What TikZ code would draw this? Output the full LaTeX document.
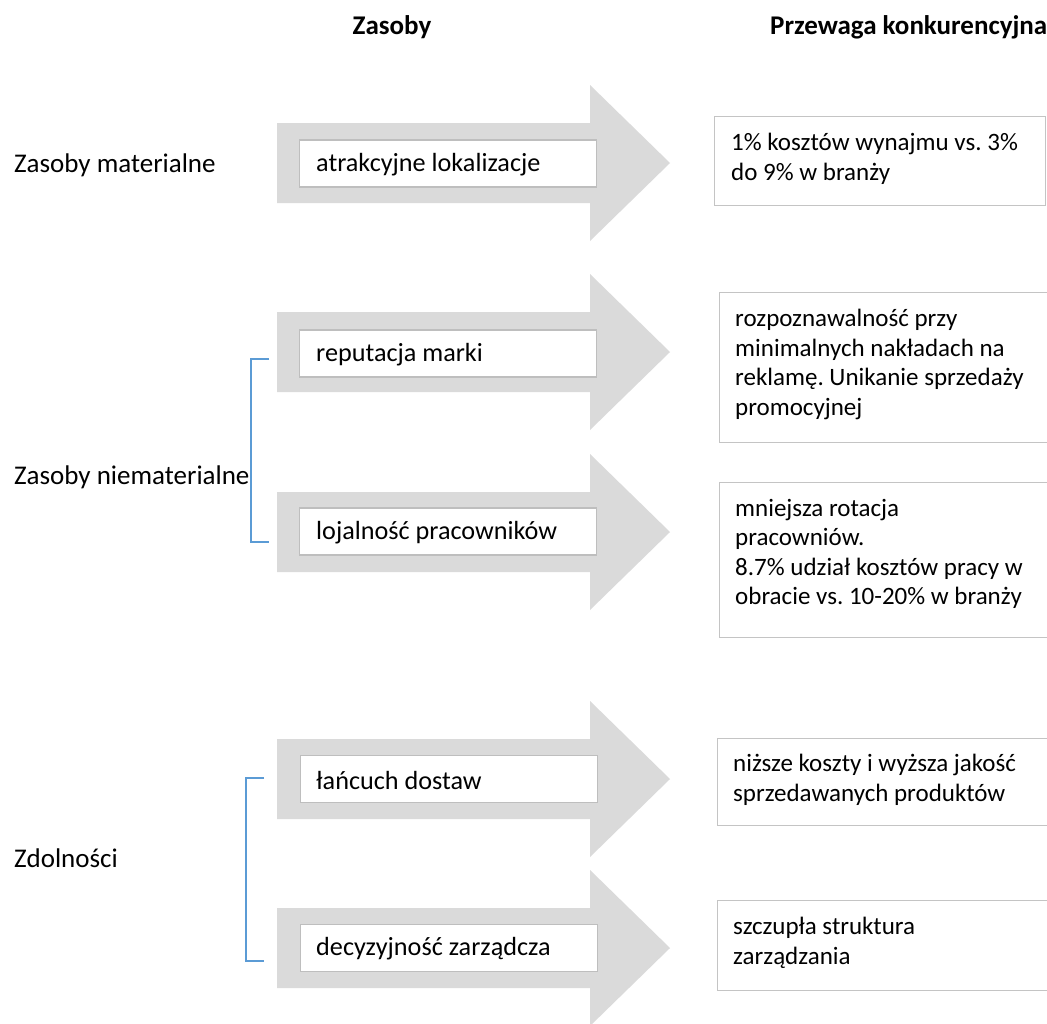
\documentclass[tikz,border=0pt]{standalone}
\usepackage{fontspec}
\setmainfont{Carlito}
\frenchspacing
\definecolor{arrowgray}{RGB}{218,218,218}
\definecolor{boxline}{RGB}{196,196,196}
\definecolor{innerline}{RGB}{190,190,190}
\definecolor{bracketblue}{RGB}{91,155,213}
\begin{document}
\begin{tikzpicture}[x=1pt,y=-1pt,
  every node/.style={font=\fontsize{25}{29.5}\selectfont},
  header/.style={font=\fontsize{27}{32}\selectfont\bfseries, inner sep=0},
  sidelabel/.style={anchor=west, inner sep=0, font=\fontsize{27}{32}\selectfont},
  innerbox/.style={draw=innerline, line width=1.2pt, fill=white, anchor=west,
    minimum width=297, minimum height=47, inner sep=0},
  innertext/.style={anchor=west, inner sep=0, font=\fontsize{26.2}{31}\selectfont},
  outbox/.style={draw=boxline, line width=1.3pt, fill=white, anchor=north west, inner sep=0},
  outtext/.style={anchor=north west, align=left, inner sep=0},
  bracket/.style={draw=bracketblue, line width=2.2pt}]
\useasboundingbox (0,0) rectangle (1047,1023);
\fill[white] (0,0) rectangle (1047,1023);

% block arrow with its centre line at #1
\newcommand{\blockarrow}[1]{%
  \fill[arrowgray] (277,#1-40) -- (590,#1-40) -- (590,#1-78) -- (670,#1)
    -- (590,#1+78) -- (590,#1+40) -- (277,#1+40) -- cycle;}

% column headers
\node[header] (h1) at (392,27) {Zasoby};
\node[header, anchor=west] (h2) at (770,27) {Przewaga konkurencyjna};

% left labels
\node[sidelabel] (l1) at (14,165) {Zasoby materialne};
\node[sidelabel] (l2) at (14,477) {Zasoby niematerialne};
\node[sidelabel] (l3) at (14,858) {Zdolności};

% arrows with resource boxes
\blockarrow{163}
\blockarrow{352}
\blockarrow{532}
\blockarrow{779}
\blockarrow{948}

\node[innerbox] (a1) at (299,163.5) {};
\node[innerbox] (a2) at (299,353.5) {};
\node[innerbox] (a3) at (299,531.5) {};
\node[innerbox] (a4) at (300,779) {};
\node[innerbox] (a5) at (300,948) {};

\node[innertext] at ([xshift=17,yshift=-1]a1.west) {atrakcyjne lokalizacje};
\node[innertext] at ([xshift=17,yshift=-1]a2.west) {reputacja marki};
\node[innertext] at ([xshift=17,yshift=-1]a3.west) {lojalność pracowników};
\node[innertext] at ([xshift=16,yshift=-1]a4.west) {łańcuch dostaw};
\node[innertext] at ([xshift=16,yshift=-1]a5.west) {decyzyjność zarządcza};

% brackets grouping the intangible resources and the capabilities
\coordinate (b1t) at (269,359);
\coordinate (b1b) at (269,542);
\coordinate (b2t) at (264,778);
\coordinate (b2b) at (264,961);
\draw[bracket] (b1t) -- ++(-18,0) |- (b1b);
\draw[bracket] (b2t) -- ++(-18,0) |- (b2b);

% competitive advantage boxes
\node[outbox, minimum width=331, minimum height=89] (r1) at (714,116) {};
\node[outbox, minimum width=340, minimum height=150] (r2) at (719,292) {};
\node[outbox, minimum width=340, minimum height=155] (r3) at (719,482) {};
\node[outbox, minimum width=340, minimum height=87] (r4) at (717,738) {};
\node[outbox, minimum width=340, minimum height=90] (r5) at (717,900) {};

\node[outtext] at ([shift={(17,17)}]r1.north west) {1\% kosztów wynajmu vs. 3\%\\do 9\% w branży};
\node[outtext] at ([shift={(16,17)}]r2.north west) {rozpoznawalność przy\\minimalnych nakładach na\\reklamę. Unikanie sprzedaży\\promocyjnej};
\node[outtext] at ([shift={(16,17)}]r3.north west) {mniejsza rotacja\\pracowniów.\\8.7\% udział kosztów pracy w\\obracie vs. 10-20\% w branży};
\node[outtext] at ([shift={(16,16)}]r4.north west) {niższe koszty i wyższa jakość\\sprzedawanych produktów};
\node[outtext] at ([shift={(16,17)}]r5.north west) {szczupła struktura\\zarządzania};
\end{tikzpicture}
\end{document}
